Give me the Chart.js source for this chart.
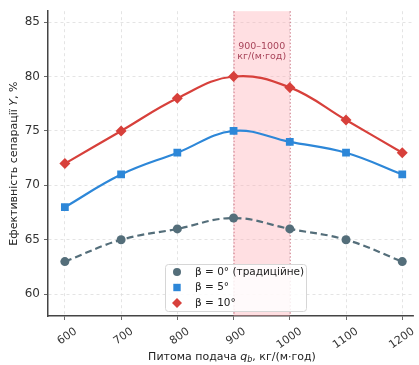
<!DOCTYPE html>
<html>
<head>
<meta charset="utf-8">
<script src="https://cdn.jsdelivr.net/npm/chart.js@4/dist/chart.umd.min.js"></script>
<style>
  html, body { margin: 0; padding: 0; background: #fff; }
  #wrap { width: 419px; height: 365px; }
</style>
</head>
<body>
<div id="wrap"><canvas id="myChart" width="419" height="365"></canvas></div>
<script>
// data
var feedRates = [600, 700, 800, 900, 1000, 1100, 1200];
var beta0 = [63, 65, 66, 67, 66, 65, 63];
var beta5 = [68, 71, 73, 75, 74, 73, 71];
var beta10 = [72, 75, 78, 80, 79, 76, 73];
var seriesNames = ['β = 0° (традиційне)', 'β = 5°', 'β = 10°'];
var yTicks = [60, 65, 70, 75, 80, 85];
var bandRange = [900, 1000];
var bandLabel = ['900–1000', 'кг/(м·год)'];

var colGray = '#546e7a', colBlue = '#2d87d8', colRed = '#d7403b';
var fontFam = '"DejaVu Sans", sans-serif';

function toXY(vals) {
  return vals.map(function (v, i) { return { x: feedRates[i], y: v }; });
}

// shaded optimum band + its label
var bandPlugin = {
  id: 'band',
  beforeDatasetsDraw: function (chart) {
    var ctx = chart.ctx, a = chart.chartArea;
    var x1 = chart.scales.x.getPixelForValue(bandRange[0]);
    var x2 = chart.scales.x.getPixelForValue(bandRange[1]);
    ctx.save();
    ctx.fillStyle = 'rgba(255, 170, 180, 0.38)';
    ctx.fillRect(x1, a.top, x2 - x1, a.bottom - a.top);
    ctx.strokeStyle = 'rgba(190, 70, 90, 0.7)';
    ctx.lineWidth = 1;
    ctx.setLineDash([1.5, 2]);
    ctx.beginPath();
    ctx.moveTo(x1 + 0.5, a.top); ctx.lineTo(x1 + 0.5, a.bottom);
    ctx.moveTo(x2 + 0.5, a.top); ctx.lineTo(x2 + 0.5, a.bottom);
    ctx.stroke();
    ctx.setLineDash([]);
    ctx.fillStyle = '#a8455a';
    ctx.font = '9.5px ' + fontFam;
    ctx.textAlign = 'center';
    ctx.textBaseline = 'middle';
    var cx = (x1 + x2) / 2;
    ctx.fillText(bandLabel[0], cx, 47);
    ctx.fillText(bandLabel[1], cx, 57);
    ctx.restore();
  }
};

function drawMarker(ctx, style, x, y, r, color) {
  ctx.fillStyle = color;
  ctx.beginPath();
  if (style === 'circle') {
    ctx.arc(x, y, r, 0, Math.PI * 2);
  } else if (style === 'rect') {
    ctx.rect(x - r, y - r, r * 2, r * 2);
  } else {
    ctx.moveTo(x, y - r); ctx.lineTo(x + r, y); ctx.lineTo(x, y + r); ctx.lineTo(x - r, y);
    ctx.closePath();
  }
  ctx.fill();
}

// legend inside the plot, axis titles with italic symbols
var extrasPlugin = {
  id: 'extras',
  afterDraw: function (chart) {
    var ctx = chart.ctx, a = chart.chartArea;
    ctx.save();
    // legend box
    var bx = 165, by = 264, bw = 141, bh = 47;
    ctx.fillStyle = 'rgba(255,255,255,0.85)';
    ctx.strokeStyle = '#d6d6d6';
    ctx.lineWidth = 1;
    ctx.beginPath();
    ctx.roundRect(bx + 0.5, by + 0.5, bw, bh, 3);
    ctx.fill(); ctx.stroke();
    var styles = ['circle', 'rect', 'diamond'];
    var cols = [colGray, colBlue, colRed];
    var sizes = [4, 3.7, 5];
    ctx.font = '10.5px ' + fontFam;
    ctx.textBaseline = 'middle';
    ctx.textAlign = 'left';
    for (var i = 0; i < 3; i++) {
      var yy = by + 8 + i * 15.5;
      drawMarker(ctx, styles[i], bx + 12, yy, sizes[i], cols[i]);
      ctx.fillStyle = '#222';
      ctx.fillText(seriesNames[i], bx + 30, yy);
    }

    // x title: Питома подача q_b, кг/(м·год)
    ctx.fillStyle = '#222';
    var y0 = 357;
    var p1 = 'Питома подача ', p3 = ', кг/(м·год)';
    ctx.font = '11px ' + fontFam;
    var w1 = ctx.measureText(p1).width, w3 = ctx.measureText(p3).width;
    ctx.font = 'italic 11px ' + fontFam;
    var wq = ctx.measureText('q').width;
    ctx.font = 'italic 8px ' + fontFam;
    var wb = ctx.measureText('b').width;
    var total = w1 + wq + wb + w3;
    var sx = 232 - total / 2;
    ctx.textAlign = 'left';
    ctx.textBaseline = 'middle';
    ctx.font = '11px ' + fontFam;
    ctx.fillText(p1, sx, y0);
    ctx.font = 'italic 11px ' + fontFam;
    ctx.fillText('q', sx + w1, y0);
    ctx.font = 'italic 8px ' + fontFam;
    ctx.fillText('b', sx + w1 + wq, y0 + 3);
    ctx.font = '11px ' + fontFam;
    ctx.fillText(p3, sx + w1 + wq + wb, y0);

    // y title: Ефективність сепарації Y, %
    ctx.translate(14, (a.top + a.bottom) / 2);
    ctx.rotate(-Math.PI / 2);
    var t1 = 'Ефективність сепарації ', t3 = ', %';
    ctx.font = '11px ' + fontFam;
    var v1 = ctx.measureText(t1).width, v3 = ctx.measureText(t3).width;
    ctx.font = 'italic 11px ' + fontFam;
    var vy = ctx.measureText('Y').width;
    var start = -(v1 + vy + v3) / 2;
    ctx.font = '11px ' + fontFam;
    ctx.fillText(t1, start, 0);
    ctx.font = 'italic 11px ' + fontFam;
    ctx.fillText('Y', start + v1, 0);
    ctx.font = '11px ' + fontFam;
    ctx.fillText(t3, start + v1 + vy, 0);
    ctx.restore();
  }
};

var ctx = document.getElementById('myChart').getContext('2d');
var myChart = new Chart(ctx, {
  type: 'line',
  data: {
    datasets: [
      {
        label: seriesNames[0],
        data: toXY(beta0),
        borderColor: colGray,
        backgroundColor: colGray,
        borderWidth: 2.2,
        borderDash: [7, 4],
        pointStyle: 'circle',
        pointRadius: 4.5,
        pointBorderWidth: 0,
        tension: 0.4
      },
      {
        label: seriesNames[1],
        data: toXY(beta5),
        borderColor: colBlue,
        backgroundColor: colBlue,
        borderWidth: 2.2,
        pointStyle: 'rect',
        pointRadius: 5.5,
        pointBorderWidth: 0,
        tension: 0.4
      },
      {
        label: seriesNames[2],
        data: toXY(beta10),
        borderColor: colRed,
        backgroundColor: colRed,
        borderWidth: 2.2,
        pointStyle: 'rectRot',
        pointRadius: 5.5,
        pointBorderWidth: 0,
        tension: 0.4
      }
    ]
  },
  options: {
    responsive: false,
    animation: false,
    layout: { padding: { top: 10, right: 0, bottom: 0, left: 0 } },
    plugins: {
      legend: { display: false },
      tooltip: { enabled: false }
    },
    scales: {
      x: {
        type: 'linear',
        min: 570,
        max: 1220,
        afterBuildTicks: function (s) { s.ticks = feedRates.map(function (v) { return { value: v }; }); },
        afterFit: function (s) { s.height = 49; },
        grid: { color: '#dddddd', lineWidth: 0.8, tickLength: 4, tickColor: '#444', tickBorderDash: [] },
        border: { color: '#444', width: 1.5, dash: [3, 3] },
        ticks: {
          color: '#333', font: { family: fontFam, size: 11 },
          minRotation: 35, maxRotation: 35, labelOffset: 11, padding: 5,
          callback: function (v) { return String(v); }
        }
      },
      y: {
        min: 58,
        max: 86,
        afterBuildTicks: function (s) { s.ticks = yTicks.map(function (v) { return { value: v }; }); },
        afterFit: function (s) { s.width = 48; },
        grid: { color: '#dddddd', lineWidth: 0.8, tickLength: 4, tickColor: '#444', tickBorderDash: [] },
        border: { color: '#444', width: 1.5, dash: [3, 3] },
        ticks: { color: '#333', font: { family: fontFam, size: 12 }, padding: 4 }
      }
    }
  },
  plugins: [bandPlugin, extrasPlugin]
});
</script>
</body>
</html>
